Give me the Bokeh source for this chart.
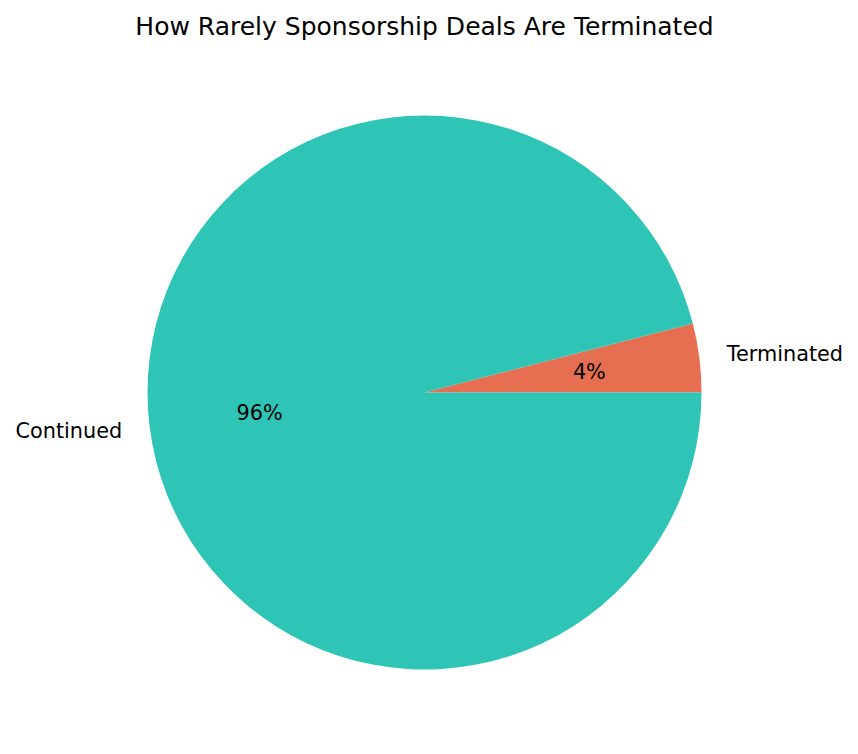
import numpy as np
from bokeh.plotting import figure
from bokeh.models import Range1d, ColumnDataSource
from bokeh.core.properties import value
from bokeh.embed import file_html
from bokeh.resources import INLINE

# Data
labels = ["Terminated", "Continued"]
values = [4, 96]
palette = ["#E76F51", "#2EC4B6"]
title_text = "How Rarely Sponsorship Deals Are Terminated"

W, H = 842, 738
S = 277.0          # pixels per data unit (pie radius = 1)
cx, cy = 424.0, 392.0  # pie centre in canvas pixels

p = figure(width=W, height=H, output_backend="svg", toolbar_location=None,
           x_axis_type=None, y_axis_type=None, min_border=0,
           x_range=Range1d(-cx / S, (W - cx) / S),
           y_range=Range1d((cy - H) / S, cy / S))
p.grid.visible = False
p.outline_line_color = None
p.background_fill_color = "white"
p.border_fill_color = "white"

vals = np.array(values, dtype=float)
frac = vals / vals.sum()
ends = np.cumsum(frac) * 2 * np.pi
starts = ends - frac * 2 * np.pi
mids = (starts + ends) / 2

src = ColumnDataSource(dict(start=starts, end=ends, color=palette, label=labels))
p.wedge(x=0, y=0, radius=1.0, start_angle="start", end_angle="end",
        fill_color="color", line_color=None, source=src)

font = value("DejaVu Sans")
# outer labels
for lab, m in zip(labels, mids):
    x = 1.1 * np.cos(m)
    y = 1.1 * np.sin(m)
    align = "left" if x > 0 else "right"
    p.text(x=[x], y=[y], text=[lab], text_font=font, text_font_size="20.8px",
           text_align=align, text_baseline="middle", text_color="black")

# percent labels
for f, m in zip(frac, mids):
    x = 0.6 * np.cos(m)
    y = 0.6 * np.sin(m)
    p.text(x=[x], y=[y], text=["%.0f%%" % (f * 100)], text_font=font,
           text_font_size="20.8px", text_align="center", text_baseline="middle",
           text_color="black")

# title
p.text(x=[0], y=[(cy - 25.5) / S], text=[title_text], text_font=font,
       text_font_size="25px", text_align="center", text_baseline="middle",
       text_color="black")

open("out.html", "w").write(file_html(p, INLINE))
